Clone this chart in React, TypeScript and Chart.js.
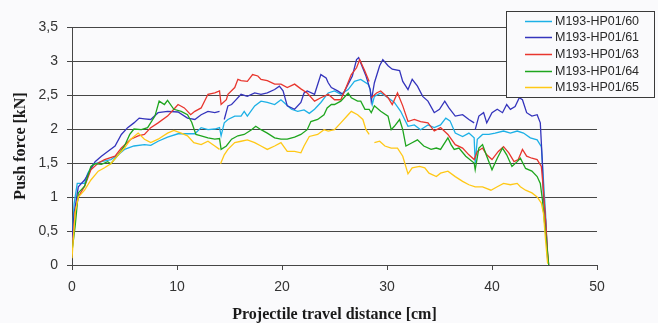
import React, { useEffect, useRef } from "react";
import { Chart, registerables } from "chart.js";

Chart.register(...registerables);

// Series: [distance cm, push force kN]; null = gap in the recorded trace
const series60: [number, number | null][] = [
  [0, 0.3], [0.2, 0.9], [0.5, 1.2], [1.2, 1.2], [1.5, 1.35], [2.0, 1.48], [2.8, 1.52], [3.7, 1.55], [4.4, 1.62], [5.0, 1.7],
  [5.9, 1.75], [6.9, 1.77], [7.5, 1.76], [8.2, 1.82], [9.1, 1.88], [10.1, 1.93], [11.0, 1.93], [11.7, 1.93], [12.3, 2.02], [12.95, 1.99],
  [13.6, 2.0], [14.05, 2.02], [14.2, 1.9], [14.5, 2.09], [14.85, 2.14], [15.5, 2.19], [16.1, 2.19], [16.4, 2.26], [16.7, 2.19], [17.4, 2.34],
  [18.0, 2.41], [18.6, 2.39], [19.3, 2.36], [19.9, 2.43], [20.4, 2.36], [20.9, 2.29], [21.5, 2.26], [22.1, 2.28], [22.6, 2.23], [23.1, 2.29],
  [23.7, 2.39], [24.4, 2.53], [25.0, 2.56], [25.6, 2.51], [26.3, 2.58], [26.9, 2.7], [27.5, 2.73], [28.2, 2.66], [28.4, 2.58], [28.6, 2.36],
  [28.8, 2.48], [29.4, 2.53], [30.1, 2.46], [30.7, 2.39], [31.3, 2.26], [32.0, 2.04], [32.6, 2.06], [33.2, 1.99], [33.9, 2.06], [34.5, 2.02],
  [35.1, 2.06], [35.6, 2.16], [36.0, 2.12], [36.5, 1.94], [37.2, 1.89], [37.8, 1.94], [38.3, 1.87], [38.4, 1.5], [38.6, 1.85], [39.1, 1.92],
  [39.7, 1.92], [40.3, 1.94], [41.1, 1.97], [41.75, 1.94], [42.4, 1.97], [43.0, 1.94], [43.65, 1.87], [44.3, 1.84], [44.7, 1.74], [44.9, 1.25],
  [45.1, 0.76], [45.3, 0.07],
];

const series61: [number, number | null][] = [
  [0, 0.4], [0.2, 0.75], [0.6, 1.15], [1.2, 1.25], [2.2, 1.52], [2.8, 1.6], [3.4, 1.67], [4.1, 1.75], [4.7, 1.92], [5.3, 2.02],
  [5.9, 2.09], [6.4, 2.16], [6.9, 2.15], [7.5, 2.14], [8.2, 2.24], [9.1, 2.26], [10.1, 2.25], [11.0, 2.16], [11.7, 2.14], [12.3, 2.21],
  [12.95, 2.26], [13.6, 2.24], [14.05, 2.26], [14.25, null], [14.5, 2.14], [14.85, 2.34], [15.2, 2.36], [15.5, 2.41], [16.1, 2.51], [16.7, 2.48],
  [17.4, 2.53], [18.0, 2.51], [18.6, 2.53], [19.3, 2.58], [19.75, 2.63], [20.1, 2.56], [20.5, 2.34], [21.2, 2.29], [21.8, 2.39], [22.1, 2.53],
  [22.4, 2.56], [23.1, 2.51], [23.7, 2.8], [24.2, 2.75], [24.4, 2.68], [24.7, 2.61], [25.3, 2.56], [25.8, 2.51], [26.3, 2.66], [26.7, 2.78],
  [27.1, 3.02], [27.3, 3.05], [27.5, 2.97], [28.0, 2.78], [28.4, 2.58], [28.5, 2.41], [28.8, 2.68], [29.3, 2.93], [29.6, 3.02], [30.1, 2.93],
  [30.5, 2.88], [31.2, 2.86], [31.5, 2.7], [32.0, 2.58], [32.4, 2.73], [32.9, 2.63], [33.4, 2.48], [33.9, 2.41], [34.5, 2.24], [35.0, 2.29],
  [35.5, 2.41], [35.9, 2.31], [36.5, 2.19], [37.2, 2.21], [37.8, 2.14], [38.3, 2.09], [38.35, null], [38.4, 1.99], [38.75, 2.19], [39.2, 2.24],
  [39.5, 2.09], [40.0, 2.24], [40.5, 2.29], [41.0, 2.24], [41.4, 2.36], [41.75, 2.29], [42.2, 2.33], [42.6, 2.46], [42.9, 2.43], [43.3, 2.24],
  [43.8, 2.19], [44.3, 2.21], [44.6, 2.09], [44.8, 1.5], [44.9, 1.0], [45.1, 0.66], [45.3, 0.1],
];

const series63: [number, number | null][] = [
  [0, 0.2], [0.3, 0.77], [0.6, 1.0], [1.2, 1.16], [1.8, 1.4], [2.5, 1.5], [3.1, 1.55], [4.1, 1.6], [4.7, 1.72], [5.6, 1.85],
  [6.3, 1.9], [6.9, 1.92], [7.5, 2.02], [8.2, 2.09], [9.1, 2.19], [9.7, 2.29], [10.1, 2.36], [10.7, 2.31], [11.3, 2.21], [11.7, 2.26],
  [12.3, 2.31], [12.95, 2.51], [13.6, 2.53], [14.05, 2.56], [14.2, 2.36], [14.7, 2.43], [14.85, 2.51], [15.5, 2.61], [15.8, 2.73], [16.1, 2.71],
  [16.7, 2.7], [17.2, 2.8], [17.7, 2.78], [18.0, 2.73], [18.6, 2.71], [19.3, 2.66], [19.9, 2.66], [20.5, 2.61], [21.2, 2.66], [21.8, 2.59],
  [22.4, 2.53], [23.1, 2.41], [23.7, 2.46], [24.4, 2.51], [25.0, 2.43], [25.6, 2.43], [26.1, 2.61], [26.6, 2.8], [27.1, 2.9], [27.4, 3.02],
  [27.9, 2.85], [28.3, 2.7], [28.4, null], [28.5, 2.46], [29.0, 2.53], [29.4, 2.56], [30.1, 2.46], [30.5, 2.36], [31.0, 2.53], [31.5, 2.34],
  [32.0, 2.11], [32.6, 2.14], [33.2, 2.11], [33.9, 2.09], [34.5, 1.97], [35.1, 2.02], [35.8, 1.92], [36.5, 1.77], [37.2, 1.72], [37.8, 1.62],
  [38.3, 1.55], [38.6, 1.67], [39.1, 1.72], [39.5, 1.62], [40.0, 1.55], [40.6, 1.67], [41.1, 1.74], [41.6, 1.65], [42.1, 1.52], [42.5, 1.55],
  [42.9, 1.7], [43.3, 1.6], [43.8, 1.57], [44.3, 1.55], [44.7, 1.45], [44.9, 1.1], [45.1, 0.66], [45.3, 0.17], [45.4, 0],
];

const series64: [number, number | null][] = [
  [0, 0.2], [0.3, 0.57], [0.6, 1.06], [1.2, 1.16], [1.8, 1.45], [2.2, 1.49], [2.8, 1.48], [3.4, 1.52], [3.7, 1.49], [4.4, 1.62],
  [5.0, 1.75], [5.5, 1.92], [5.9, 2.0], [6.6, 1.99], [7.2, 2.02], [7.9, 2.19], [8.3, 2.41], [8.8, 2.36], [9.1, 2.42], [9.7, 2.29],
  [10.4, 2.26], [11.0, 2.21], [11.4, 2.1], [11.8, 1.92], [12.3, 1.9], [12.95, 1.87], [13.6, 1.85], [14.05, 1.86], [14.2, 1.7], [14.7, 1.75],
  [15.2, 1.85], [15.8, 1.9], [16.4, 1.92], [17.1, 1.99], [17.5, 2.04], [18.0, 1.99], [18.6, 1.94], [19.3, 1.87], [19.9, 1.85], [20.5, 1.85],
  [21.2, 1.88], [21.8, 1.92], [22.4, 1.99], [22.75, 2.11], [23.4, 2.14], [24.0, 2.21], [24.3, 2.31], [24.7, 2.36], [25.0, 2.36], [25.6, 2.41],
  [26.3, 2.53], [26.6, 2.46], [27.2, 2.41], [27.5, 2.41], [27.9, 2.29], [28.3, 2.29], [28.5, 2.24], [28.8, 2.34], [29.4, 2.26], [30.1, 2.19],
  [30.4, 1.99], [30.7, 2.04], [31.2, 2.14], [31.5, 1.99], [31.8, 1.75], [32.3, 1.79], [32.9, 1.84], [33.5, 1.75], [34.2, 1.7], [34.7, 1.72],
  [35.1, 1.7], [35.8, 1.87], [36.1, 1.77], [36.4, 1.7], [36.85, 1.72], [37.5, 1.6], [38.3, 1.5], [38.4, 1.4], [38.75, 1.72], [39.1, 1.77],
  [39.5, 1.6], [40.0, 1.4], [40.5, 1.57], [41.0, 1.72], [41.4, 1.62], [41.9, 1.45], [42.4, 1.52], [42.7, 1.57], [43.2, 1.42], [43.8, 1.38],
  [44.3, 1.3], [44.6, 1.2], [44.8, 0.96], [45.1, 0.47], [45.3, 0.17], [45.4, 0],
];

const series65: [number, number | null][] = [
  [0, 0.1], [0.3, 0.77], [0.6, 1.0], [1.2, 1.1], [1.8, 1.25], [2.5, 1.38], [3.1, 1.43], [3.7, 1.49], [4.4, 1.62], [5.0, 1.72],
  [5.6, 1.85], [6.3, 1.94], [6.9, 1.85], [7.5, 1.8], [8.2, 1.85], [9.1, 1.94], [9.7, 1.98], [10.4, 1.94], [11.0, 1.9], [11.6, 1.8],
  [12.3, 1.77], [12.95, 1.82], [13.6, 1.75], [14.05, 1.7], [14.1, null], [14.15, 1.49], [14.5, 1.62], [14.85, 1.7], [15.5, 1.8], [16.1, 1.82],
  [16.7, 1.84], [17.4, 1.8], [18.0, 1.75], [18.6, 1.7], [19.3, 1.75], [19.9, 1.8], [20.5, 1.67], [21.2, 1.67], [21.8, 1.65], [22.1, 1.75],
  [22.6, 1.89], [23.4, 1.92], [24.0, 1.99], [24.4, 1.97], [25.0, 1.99], [25.6, 2.09], [26.3, 2.21], [26.6, 2.26], [27.2, 2.21], [27.7, 2.14],
  [28.0, 1.99], [28.3, 1.92], [28.6, null], [28.8, 1.8], [29.3, 1.82], [29.8, 1.75], [30.4, 1.72], [31.0, 1.72], [31.5, 1.6], [32.0, 1.34],
  [32.4, 1.43], [33.1, 1.45], [33.6, 1.43], [34.0, 1.35], [34.7, 1.3], [35.1, 1.35], [35.8, 1.38], [36.5, 1.3], [37.2, 1.23], [37.8, 1.18],
  [38.4, 1.15], [39.1, 1.15], [39.9, 1.1], [40.5, 1.15], [41.1, 1.2], [41.75, 1.18], [42.4, 1.2], [42.7, 1.15], [43.2, 1.1], [43.8, 1.06],
  [44.3, 1.0], [44.7, 0.91], [44.9, 0.76], [45.1, 0.37], [45.3, 0.02],
];

const seriesLabels = ["M193-HP01/60", "M193-HP01/61", "M193-HP01/63", "M193-HP01/64", "M193-HP01/65"];
const seriesColors = ["#1cb0e6", "#3434bc", "#e8362e", "#1ea51e", "#ffc816"];
const allSeries = [series60, series61, series63, series64, series65];

const xTitle = "Projectile travel distance [cm]";
const yTitle = "Push force [kN]";

const BG = "#fafafc";
const GRID = "#464646";
const TICK_FONT = { family: '"Liberation Sans", Arial, sans-serif', size: 14 };
const TITLE_FONT = { family: '"Liberation Serif", "Times New Roman", serif', size: 16, weight: "bold" as const, lineHeight: 1 };

export default function App() {
  const ref = useRef<HTMLCanvasElement>(null);

  useEffect(() => {
    document.body.style.margin = "0";
    if (!ref.current) return;

    const bgPlugin = {
      id: "bgFill",
      beforeDraw(chart: any) {
        const { ctx, width, height } = chart;
        ctx.save();
        ctx.fillStyle = BG;
        ctx.fillRect(0, 0, width, height);
        ctx.restore();
      },
    };

    const boxLegend = {
      id: "boxLegend",
      afterDraw(chart: any) {
        const { ctx } = chart;
        const bx = 506.5, by = 11.5, bw = 148, bh = 86;
        ctx.save();
        ctx.fillStyle = BG;
        ctx.fillRect(bx, by, bw, bh);
        ctx.strokeStyle = "#3a3a3a";
        ctx.lineWidth = 1;
        ctx.strokeRect(bx, by, bw, bh);
        ctx.font = '12.5px "Liberation Sans", Arial, sans-serif';
        ctx.textBaseline = "middle";
        ctx.textAlign = "left";
        chart.data.datasets.forEach((ds: any, i: number) => {
          const y = Math.round(20.7 + i * 16.65) + 0.5;
          ctx.strokeStyle = ds.borderColor;
          ctx.lineWidth = 1.5;
          ctx.beginPath();
          ctx.moveTo(525, y);
          ctx.lineTo(552, y);
          ctx.stroke();
          ctx.fillStyle = "#2a2a2a";
          ctx.fillText(ds.label, 555, y);
        });
        ctx.restore();
      },
    };

    const chart = new Chart(ref.current, {
      type: "line",
      data: {
        datasets: allSeries.map((s, i) => ({
          label: seriesLabels[i],
          data: s.map(([x, y]) => ({ x, y })),
          borderColor: seriesColors[i],
          backgroundColor: seriesColors[i],
          borderWidth: 1.3,
          pointRadius: 0,
          tension: 0,
          spanGaps: false,
          fill: false,
          order: allSeries.length - i,
        })),
      },
      options: {
        responsive: false,
        animation: false,
        devicePixelRatio: 1,
        layout: { padding: { top: 27, right: 61, left: 0, bottom: 0 } },
        plugins: { legend: { display: false }, tooltip: { enabled: false } },
        scales: {
          x: {
            type: "linear",
            min: 0,
            max: 50,
            ticks: { stepSize: 10, font: TICK_FONT, color: "#333", padding: 9, maxRotation: 0 },
            grid: { drawOnChartArea: false, tickLength: 5, color: GRID },
            border: { display: true, color: GRID, width: 1 },
            title: { display: true, text: xTitle, font: TITLE_FONT, color: "#1a1a1a", padding: { top: 0, bottom: 0 } },
            afterFit: (s: any) => {
              s.height = 58;
            },
          },
          y: {
            type: "linear",
            min: 0,
            max: 3.5,
            ticks: {
              stepSize: 0.5,
              font: TICK_FONT,
              color: "#333",
              padding: 9,
              callback: (v: any) => String(v).replace(".", ","),
            },
            grid: { color: GRID, tickLength: 5 },
            border: { display: true, color: GRID, width: 1 },
            title: { display: true, text: yTitle, font: TITLE_FONT, color: "#1a1a1a", padding: { top: 13, bottom: 0 } },
            afterFit: (s: any) => {
              s.width = 72;
            },
          },
        },
      },
      plugins: [bgPlugin, boxLegend],
    } as any);

    return () => chart.destroy();
  }, []);

  return (
    <div style={{ width: 658, height: 323 }}>
      <canvas ref={ref} width={658} height={323} style={{ display: "block" }} />
    </div>
  );
}
